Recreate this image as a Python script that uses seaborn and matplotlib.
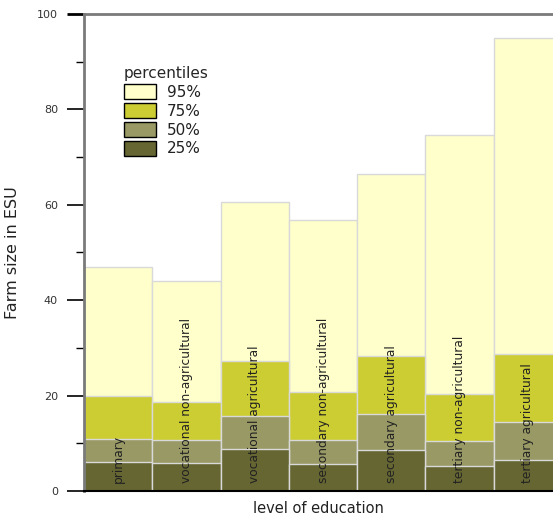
import matplotlib
matplotlib.use("Agg")
import matplotlib.pyplot as plt
from matplotlib.patches import Patch
import numpy as np
import pandas as pd
import seaborn as sns

# Farm size percentiles (ESU) by level of education
education = [
    "primary",
    "vocational non-agricultural",
    "vocational agricultural",
    "secondary non-agricultural",
    "secondary agricultural",
    "tertiary non-agricultural",
    "tertiary agricultural",
]
p95 = [46.9, 44.0, 60.6, 56.8, 66.4, 74.6, 94.9]
p75 = [20.0, 18.7, 27.3, 20.8, 28.2, 20.4, 28.7]
p50 = [10.9, 10.6, 15.7, 10.7, 16.1, 10.4, 14.5]
p25 = [6.0, 5.8, 8.9, 5.7, 8.5, 5.2, 6.6]

percentile_labels = ["95%", "75%", "50%", "25%"]
colors = ["#ffffcc", "#cccc33", "#999966", "#666633"]

df = pd.DataFrame({"education": education, "95%": p95, "75%": p75,
                   "50%": p50, "25%": p25})

sns.set_theme(style="white")
plt.rcParams["font.family"] = ["DejaVu Sans"]

W, H = 553, 519
fig = plt.figure(figsize=(W / 100, H / 100), dpi=100)
ax = fig.add_axes([84 / W, (H - 491) / H, (W - 84) / W, (491 - 14) / H])

# Overlay the percentile bars, largest first
for lab, col in zip(percentile_labels, colors):
    sns.barplot(data=df, x="education", y=lab, order=education, color=col,
                width=1.0, edgecolor="#d9d9d9", linewidth=1.0, errorbar=None,
                saturation=1.0, ax=ax)

# Category names written inside each bar
for i, name in enumerate(education):
    ax.text(i, 1.6, name, rotation=90, ha="center", va="bottom",
            fontsize=8.8, color="#222222")

ax.set_xlim(-0.5, 6.367)
ax.set_ylim(0, 100)
ax.set_xticks([])
ax.set_yticks(np.arange(0, 101, 20))
ax.set_yticks(np.arange(10, 100, 20), minor=True)
ax.set_yticklabels([str(v) for v in range(0, 101, 20)], fontsize=8, color="#333333")
ax.tick_params(axis="y", which="major", left=True, length=12.2, width=1.2,
               color="black", pad=6.5, direction="out")
ax.tick_params(axis="y", which="minor", left=True, length=5.8, width=1.0,
               color="black", direction="out")
ax.yaxis.get_major_ticks()[-1].tick1line.set_color("#7a7a7a")
ax.yaxis.get_major_ticks()[-1].tick1line.set_markeredgewidth(2)

ax.spines["right"].set_visible(False)
ax.spines["left"].set_color("#7a7a7a")
ax.spines["left"].set_linewidth(2)
ax.spines["top"].set_color("#7a7a7a")
ax.spines["top"].set_linewidth(2)
ax.spines["bottom"].set_color("black")
ax.spines["bottom"].set_linewidth(1.5)

ax.set_ylabel("Farm size in ESU", fontsize=11.5, color="#222222")
ax.yaxis.set_label_coords(-0.136, 0.5)
ax.set_xlabel("level of education", fontsize=10.5, color="#222222")
ax.xaxis.set_label_coords(0.5, -0.02)

handles = [Patch(facecolor=c, edgecolor="black", linewidth=1.0) for c in colors]
leg = ax.legend(handles, percentile_labels, title="percentiles", frameon=False,
                loc="upper left", bbox_to_anchor=(118 / W, 1 - 60 / H),
                bbox_transform=fig.transFigure, fontsize=11, title_fontsize=11,
                handlelength=2.1, handleheight=1.15, labelspacing=0.2,
                handletextpad=0.7, borderaxespad=0, alignment="left")
for t in leg.get_texts():
    t.set_color("#222222")

fig.savefig("out.png", dpi=100)
